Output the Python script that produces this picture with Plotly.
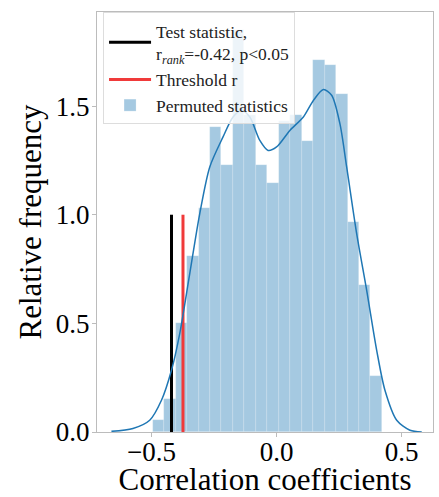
import plotly.graph_objects as go

# ---- data ----
bin_start = -0.495
bin_width = 0.0458
bar_heights = [0.055, 0.15, 0.50, 0.81, 1.03, 1.405, 1.23, 1.85, 1.46, 1.23,
               1.145, 1.43, 1.46, 1.34, 1.71, 1.69, 1.555, 0.965, 0.675, 0.26]

kde_x = [-0.66, -0.574, -0.507, -0.46, -0.42, -0.387, -0.347, -0.307, -0.267, -0.214,
         -0.174, -0.14, -0.107, -0.067, -0.034, 0.0, 0.053, 0.107, 0.147, 0.187,
         0.22, 0.253, 0.28, 0.32, 0.36, 0.4, 0.433, 0.48, 0.533, 0.58]
kde_y = [0.003, 0.016, 0.054, 0.146, 0.284, 0.453, 0.729, 1.005, 1.22, 1.358,
         1.45, 1.48, 1.45, 1.342, 1.296, 1.312, 1.388, 1.45, 1.526, 1.576,
         1.55, 1.419, 1.22, 0.913, 0.652, 0.376, 0.192, 0.054, 0.008, 0.0]

test_stat = -0.42
threshold_r = -0.374
line_height = 1.0

bar_centers = [bin_start + bin_width * (i + 0.5) for i in range(len(bar_heights))]

FONT = "Liberation Serif"

fig = go.Figure()

fig.add_trace(go.Scatter(
    x=[test_stat, test_stat], y=[0, line_height], mode="lines",
    line=dict(color="black", width=3),
    name="Test statistic,<br>r<sub><i>rank</i></sub>=-0.42, p&lt;0.05",
))
fig.add_trace(go.Scatter(
    x=[threshold_r, threshold_r], y=[0, line_height], mode="lines",
    line=dict(color="#f03a3a", width=3),
    name="Threshold r",
))
fig.add_trace(go.Bar(
    x=bar_centers, y=bar_heights, width=bin_width,
    marker=dict(color="rgba(31,119,180,0.4)",
                line=dict(color="rgba(255,255,255,0.35)", width=0.6)),
    name="Permuted statistics",
))
fig.add_trace(go.Scatter(
    x=kde_x, y=kde_y, mode="lines",
    line=dict(color="#1f77b4", width=1.5, shape="spline", smoothing=0.8),
    showlegend=False,
))

axis_common = dict(
    showgrid=False, zeroline=False, showline=True, mirror=True,
    linecolor="#bcbcbc", linewidth=1.2, automargin=False,
    ticks="outside", ticklen=4, tickcolor="#bcbcbc", tickwidth=1,
    tickfont=dict(family=FONT, size=27, color="black"),
)

fig.update_layout(
    width=439, height=497,
    margin=dict(l=97, r=6, t=12, b=65),
    paper_bgcolor="white", plot_bgcolor="white",
    font=dict(family=FONT, color="black"),
    bargap=0,
    showlegend=True,
    legend=dict(
        x=0.018, y=1.0, xanchor="left", yanchor="top",
        bgcolor="rgba(255,255,255,0.8)", bordercolor="#dddddd", borderwidth=1,
        font=dict(family=FONT, size=17.5, color="#222"),
        tracegroupgap=0, itemwidth=42,
    ),
    xaxis=dict(
        range=[-0.7176, 0.625], tickvals=[-0.5, 0.0, 0.5],
        tickformat=".1f", ticklabelstandoff=-9,
        title=dict(text="Correlation coefficients",
                   font=dict(family=FONT, size=31, color="black"), standoff=2),
        **axis_common,
    ),
    yaxis=dict(
        range=[0, 1.933], tickvals=[0.0, 0.5, 1.0, 1.5], tickformat=".1f",
        ticklabelstandoff=-3,
        title=dict(text="Relative frequency",
                   font=dict(family=FONT, size=31, color="black"), standoff=4),
        **axis_common,
    ),
)

fig.write_html("out.html")
